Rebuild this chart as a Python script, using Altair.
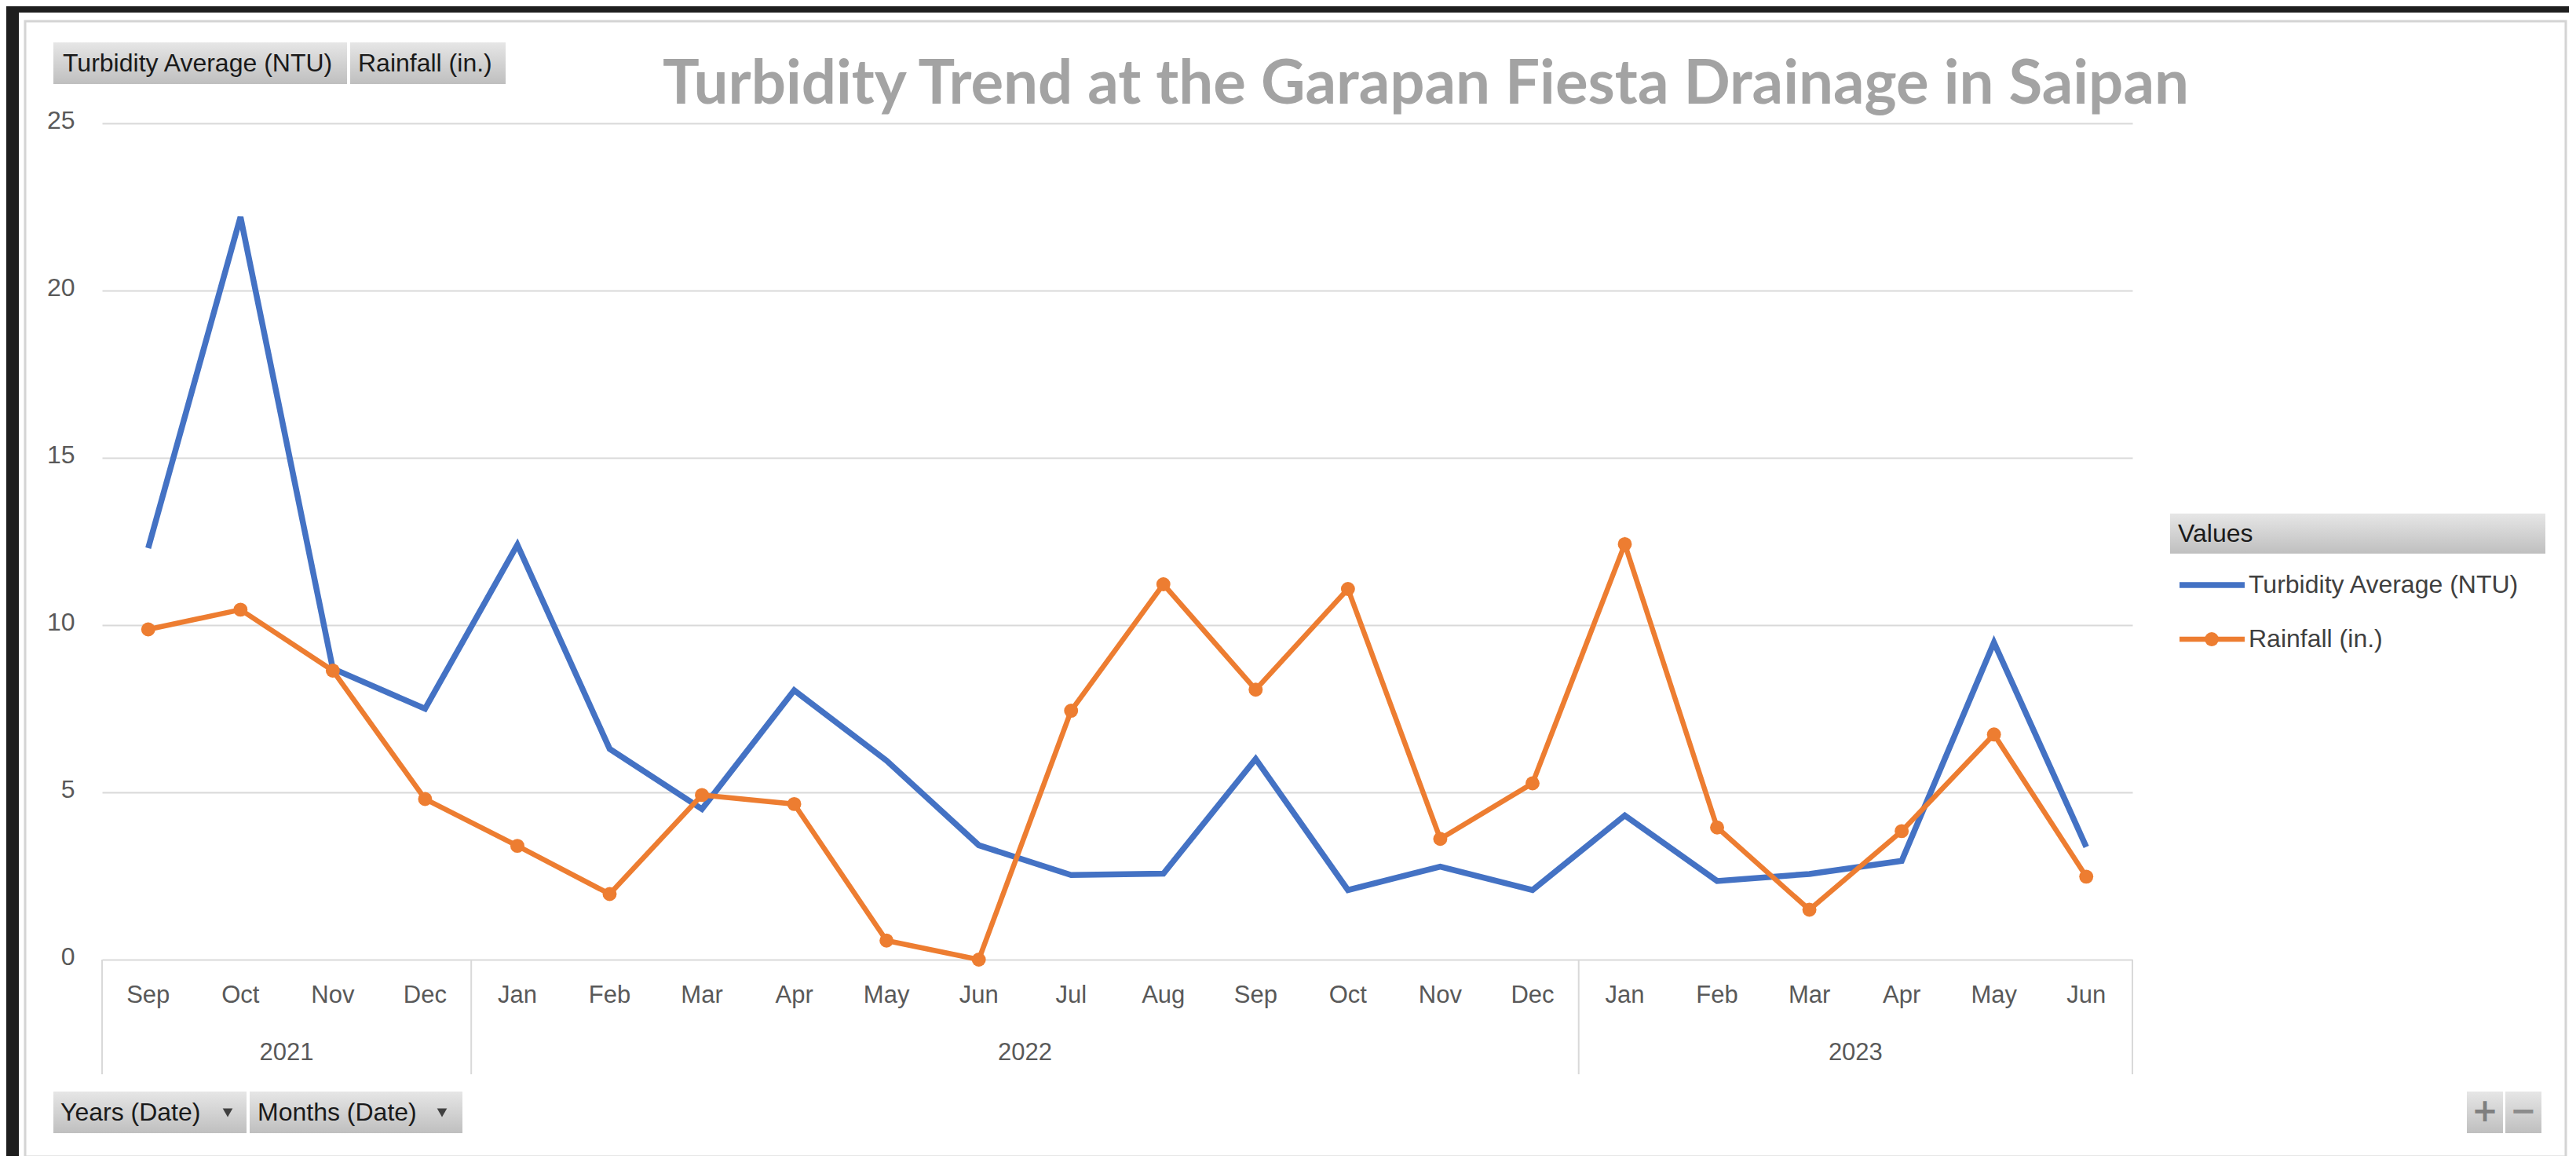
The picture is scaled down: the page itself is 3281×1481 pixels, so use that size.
import altair as alt
import pandas as pd

# ---------------- data ----------------
months = ["Sep", "Oct", "Nov", "Dec",
          "Jan", "Feb", "Mar", "Apr", "May", "Jun", "Jul", "Aug", "Sep", "Oct", "Nov", "Dec",
          "Jan", "Feb", "Mar", "Apr", "May", "Jun"]
years = [2021, 2021, 2021, 2021,
         2022, 2022, 2022, 2022, 2022, 2022, 2022, 2022, 2022, 2022, 2022, 2022,
         2023, 2023, 2023, 2023, 2023, 2023]
turbidity = [12.3, 22.2, 8.7, 7.5,
             12.4, 6.3, 4.5, 8.05, 5.95, 3.42, 2.53, 2.57, 6.0, 2.08, 2.78, 2.08,
             4.31, 2.35, 2.56, 2.95, 9.48, 3.37]
rainfall = [9.87, 10.46, 8.64, 4.8,
            3.4, 1.96, 4.92, 4.65, 0.57, 0.0, 7.44, 11.22, 8.07, 11.08, 3.61, 5.27,
            12.42, 3.95, 1.49, 3.84, 6.73, 2.48]
series_names = ["Turbidity Average (NTU)", "Rainfall (in.)"]
series_colors = ["#4472c4", "#ed7d31"]
y_ticks = [0, 5, 10, 15, 20, 25]
title_text = "Turbidity Trend at the Garapan Fiesta Drainage in Saipan"

# ---------------- layout ----------------
W, H = 2586, 1065
PAD_L, PAD_T = 122, 149
TOTAL_W, TOTAL_H = 3264, 1464
FONT = "Liberation Sans"
AXIS_GREY = "#595959"
GRID = "#d9d9d9"

idx = list(range(len(months)))
df_t = pd.DataFrame({"idx": idx, "value": turbidity, "month": months, "year": years})
df_r = pd.DataFrame({"idx": idx, "value": rainfall, "month": months, "year": years})

yr = pd.DataFrame({"year": years, "idx": idx}).groupby("year")["idx"].agg(["min", "max"]).reset_index()
yr["center"] = (yr["min"] + yr["max"]) / 2
yr["label"] = yr["year"].astype(str)
seps = sorted(set(list(yr["min"] - 0.5) + list(yr["max"] + 0.5)))
df_sep = pd.DataFrame({"pos": seps})

x_scale = alt.Scale(domain=[-0.5, len(months) - 0.5], nice=False, zero=False)
y_scale = alt.Scale(domain=[0, 25], nice=False, zero=True)

X = alt.X("idx:Q", scale=x_scale, axis=None)
Y = alt.Y("value:Q", scale=y_scale,
          axis=alt.Axis(values=y_ticks, grid=True, gridColor=GRID, gridWidth=2,
                        domain=False, ticks=False, labelFont=FONT, labelFontSize=32,
                        labelColor=AXIS_GREY, labelPadding=35, labelOffset=-4, title=None))

one = pd.DataFrame({"k": [0]})


def rect(x1, x2, y1, y2, **kw):
    return alt.Chart(one).mark_rect(**kw).encode(
        x=alt.value(x1), x2=alt.value(x2), y=alt.value(y1), y2=alt.value(y2))


def text(t, x, y, **kw):
    return alt.Chart(one).mark_text(text=t, **kw).encode(x=alt.value(x), y=alt.value(y))


btn_grad = alt.Gradient(gradient="linear",
                        stops=[alt.GradientStop(color="#e6e6e6", offset=0),
                               alt.GradientStop(color="#bfbfbf", offset=1)],
                        x1=0, x2=0, y1=0, y2=1)

layers = []

# main series lines (first layer carries the y axis)
layers.append(alt.Chart(df_t).mark_line(color=series_colors[0], strokeWidth=7.5).encode(x=X, y=Y))

# window frame (dark strips) and chart border
layers.append(rect(-PAD_L, TOTAL_W - PAD_L, -PAD_T, -PAD_T + 8, color="#1e1e1e"))
layers.append(rect(-PAD_L, -106, -PAD_T, TOTAL_H - PAD_T, color="#1e1e1e"))
layers.append(rect(-98, 3138, -130, 1316, fill="white", fillOpacity=0, stroke="#d4d4d4", strokeWidth=3))

# category separators & labels
layers.append(alt.Chart(df_sep).mark_rule(color=GRID, strokeWidth=2).encode(
    x=alt.X("pos:Q", scale=x_scale, axis=None), y=alt.value(H), y2=alt.value(H + 146)))
layers.append(alt.Chart(df_t).mark_text(font=FONT, fontSize=31, color=AXIS_GREY, baseline="middle").encode(
    x=X, y=alt.value(1111), text="month:N"))
layers.append(alt.Chart(yr).mark_text(font=FONT, fontSize=31, color=AXIS_GREY, baseline="middle").encode(
    x=alt.X("center:Q", scale=x_scale, axis=None), y=alt.value(1184), text="label:N"))

layers.append(alt.Chart(df_r).mark_line(color=series_colors[1], strokeWidth=6.5).encode(x=X, y=Y))
layers.append(alt.Chart(df_r).mark_point(filled=True, size=320, opacity=1, color=series_colors[1]).encode(x=X, y=Y))

# title
layers.append(text(title_text, 1686, -25, font="Lato", fontWeight="bold", fontSize=78,
                   color="#a3a3a3", align="center", baseline="alphabetic"))

# pivot field buttons (top)
layers.append(rect(-62, 312, -103, -50, fill=btn_grad))
layers.append(text(series_names[0], -50, -76, font=FONT, fontSize=32, color="#1a1a1a",
                   align="left", baseline="middle"))
layers.append(rect(316, 514, -103, -50, fill=btn_grad))
layers.append(text(series_names[1], 326, -76, font=FONT, fontSize=32, color="#1a1a1a",
                   align="left", baseline="middle"))

# pivot field buttons (bottom)
layers.append(rect(-62, 184, 1233, 1286, fill=btn_grad))
layers.append(text("Years (Date)", -53, 1260, font=FONT, fontSize=32, color="#1a1a1a",
                   align="left", baseline="middle"))
layers.append(alt.Chart(one).mark_point(shape="triangle-down", filled=True, size=160, opacity=1,
                                         color="#404040").encode(x=alt.value(160), y=alt.value(1260)))
layers.append(rect(188, 459, 1233, 1286, fill=btn_grad))
layers.append(text("Months (Date)", 198, 1260, font=FONT, fontSize=32, color="#1a1a1a",
                   align="left", baseline="middle"))
layers.append(alt.Chart(one).mark_point(shape="triangle-down", filled=True, size=160, opacity=1,
                                         color="#404040").encode(x=alt.value(433), y=alt.value(1260)))

# legend
layers.append(rect(2634, 3112, 497, 548, fill=btn_grad))
layers.append(text("Values", 2644, 523, font=FONT, fontSize=32, color="#1a1a1a",
                   align="left", baseline="middle"))
layers.append(alt.Chart(one).mark_rule(color=series_colors[0], strokeWidth=7.5).encode(
    x=alt.value(2646), x2=alt.value(2729), y=alt.value(588)))
layers.append(text(series_names[0], 2734, 588, font=FONT, fontSize=32, color="#404040",
                   align="left", baseline="middle"))
layers.append(alt.Chart(one).mark_rule(color=series_colors[1], strokeWidth=6.5).encode(
    x=alt.value(2646), x2=alt.value(2729), y=alt.value(657)))
layers.append(alt.Chart(one).mark_point(filled=True, size=320, opacity=1, color=series_colors[1]).encode(
    x=alt.value(2687), y=alt.value(657)))
layers.append(text(series_names[1], 2734, 657, font=FONT, fontSize=32, color="#404040",
                   align="left", baseline="middle"))

# +/- buttons
layers.append(rect(3012, 3058, 1233, 1286, fill=btn_grad))
layers.append(text("+", 3035, 1259, font="DejaVu Sans", fontSize=40, fontWeight="bold", color="#7f7f7f",
                   align="center", baseline="middle"))
layers.append(rect(3061, 3107, 1233, 1286, fill=btn_grad))
layers.append(text("\u2212", 3084, 1259, font="DejaVu Sans", fontSize=40, fontWeight="bold", color="#8c8c8c",
                   align="center", baseline="middle"))

chart = alt.layer(*layers).properties(
    width=W, height=H,
    autosize=alt.AutoSizeParams(type="none"),
    padding={"left": PAD_L, "top": PAD_T, "right": TOTAL_W - PAD_L - W, "bottom": TOTAL_H - PAD_T - H},
    background="white",
).configure_view(stroke=None)

chart.save("out.html", embed_options={"renderer": "svg", "actions": False})
